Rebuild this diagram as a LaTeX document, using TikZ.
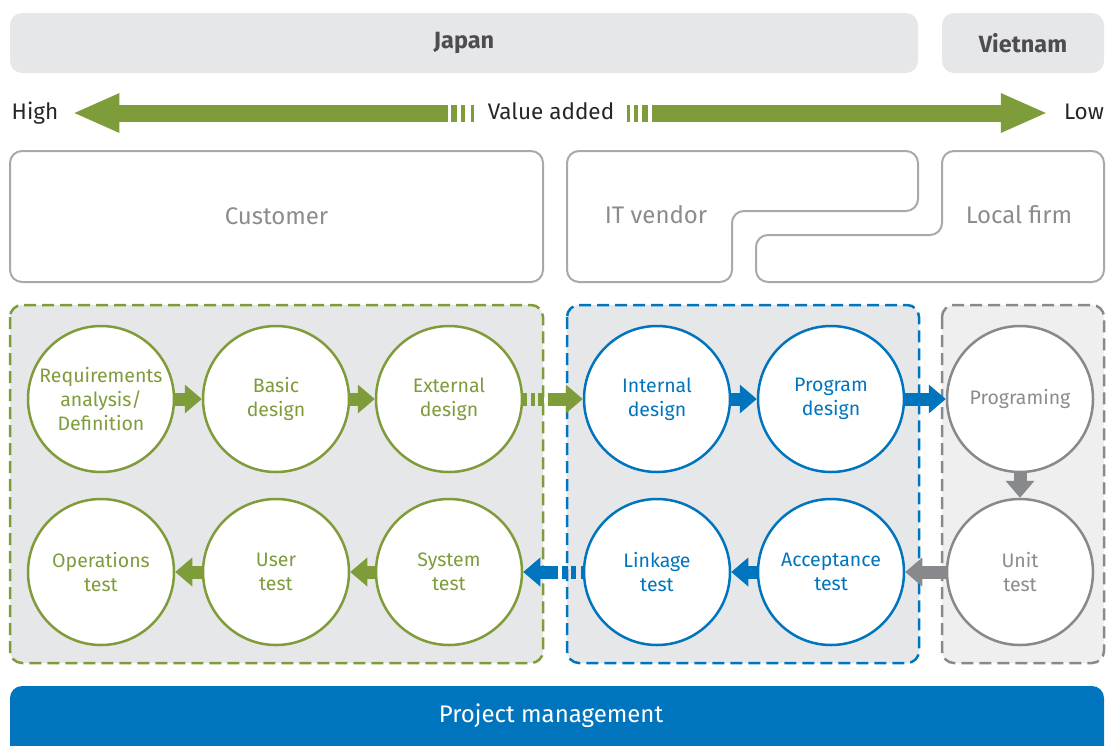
\documentclass[tikz,border=0pt]{standalone}
\usepackage{fontspec}
\setmainfont{Fira Sans}
\usetikzlibrary{arrows.meta,positioning}
\definecolor{valuecol}{RGB}{127,156,59}
\definecolor{vendorcol}{RGB}{0,117,190}
\definecolor{firmcol}{RGB}{135,137,140}
\definecolor{boxline}{RGB}{167,169,172}
\definecolor{boxtext}{RGB}{138,140,142}
\definecolor{panelfill}{RGB}{230,231,232}
\definecolor{firmfill}{RGB}{239,239,239}
\definecolor{headtext}{RGB}{77,77,79}
\tikzset{
  region/.style={fill=panelfill,rounded corners=12pt,minimum height=60pt,inner sep=0pt,
    font=\fontsize{23.5}{26}\selectfont\bfseries,text=headtext},
  party/.style={draw=boxline,line width=2pt,rounded corners=12pt},
  partytext/.style={font=\fontsize{24}{28}\selectfont,text=boxtext,inner sep=0pt},
  scalelbl/.style={font=\fontsize{22.5}{26}\selectfont,text=black!85,inner sep=0pt,
    text height=16pt,text depth=4pt},
  valarrow/.style={-{Triangle[length=45pt,width=40pt,line width=0pt]},line width=17pt,valuecol},
  panel/.style={line width=2.5pt,rounded corners=12pt,dash pattern=on 12pt off 6pt},
  phase/.style={circle,draw,fill=white,line width=2.5pt,minimum size=146pt,inner sep=0pt,
    align=center,font=\fontsize{19.5}{24}\selectfont},
  flow/.style={-{Triangle[length=17pt,width=29pt,line width=0pt]},line width=13pt}
}

\begin{document}
\begin{tikzpicture}[x=1pt,y=-1pt]
  \useasboundingbox (0,0) rectangle (1113,745);
  \clip (0,0) rectangle (1113,745);

  % countries
  \node[region,minimum width=908pt] (japan) at (464,43) {Japan};
  \node[region,minimum width=162pt] (vietnam) at (1023,43) {Vietnam};

  % value added scale
  \node[scalelbl] (high) at (35,113) {High};
  \node[scalelbl] (low) at (1084,113) {Low};
  \node[scalelbl] (value) at (551,113) {Value added};
  \draw[valarrow,shorten <=14pt,shorten >=16pt,
    dash pattern=on 3pt off 6pt on 4pt off 4pt on 6pt off 3pt on 600pt] (value.west) -- (high.east);
  \draw[valarrow,shorten <=13pt,shorten >=18pt,
    dash pattern=on 3pt off 4pt on 4pt off 4pt on 6pt off 4pt on 600pt] (value.east) -- (low.west);

  % who does the work
  \node[party,partytext,minimum width=533pt,minimum height=131pt] (customer) at (276.5,216.5) {Customer};
  \draw[party] (567,151) -- (918,151) -- (918,211) -- (732,211) -- (732,282) -- (567,282) -- cycle;
  \draw[party] (942,151) -- (1104,151) -- (1104,282) -- (756,282) -- (756,235) -- (942,235) -- cycle;
  \node[partytext] (itvendor) at (656,215) {IT vendor};
  \node[partytext] (localfirm) at (1019,215) {Local firm};

  % phase groups
  \draw[panel,draw=valuecol,fill=panelfill] (10,305) rectangle (543,663);
  \draw[panel,draw=vendorcol,fill=panelfill] (567,305) rectangle (919,663);
  \draw[panel,draw=firmcol,fill=firmfill] (942,305) rectangle (1104,663);

  \node[phase,draw=valuecol,text=valuecol] (req) at (101,399) {Requirements\\analysis/\\Definition};
  \node[phase,draw=valuecol,text=valuecol] (basic) at (276,399) {Basic\\design};
  \node[phase,draw=valuecol,text=valuecol] (external) at (449,399) {External\\design};
  \node[phase,draw=valuecol,text=valuecol] (operations) at (101,572) {Operations\\test};
  \node[phase,draw=valuecol,text=valuecol] (user) at (276,572) {User\\test};
  \node[phase,draw=valuecol,text=valuecol] (system) at (449,572) {System\\test};
  \node[phase,draw=vendorcol,text=vendorcol] (internal) at (657,399) {Internal\\design};
  \node[phase,draw=vendorcol,text=vendorcol] (program) at (831,399) {Program\\design};
  \node[phase,draw=vendorcol,text=vendorcol] (linkage) at (657,572) {Linkage\\test};
  \node[phase,draw=vendorcol,text=vendorcol] (acceptance) at (831,572) {Acceptance\\test};
  \node[phase,draw=firmcol,text=boxtext] (programing) at (1020,399) {Programing};
  \node[phase,draw=firmcol,text=boxtext] (unit) at (1020,572) {Unit\\test};

  % flow between phases
  \draw[flow,valuecol] (req) -- (basic);
  \draw[flow,valuecol] (basic) -- (external);
  \draw[flow,valuecol,dash pattern=on 4pt off 4pt on 4pt off 3pt on 6pt off 4pt on 100pt] (external) -- (internal);
  \draw[flow,vendorcol] (internal) -- (program);
  \draw[flow,vendorcol] (program) -- (programing);
  \draw[flow,firmcol] (programing) -- (unit);
  \draw[flow,firmcol] (unit) -- (acceptance);
  \draw[flow,vendorcol] (acceptance) -- (linkage);
  \draw[flow,vendorcol,dash pattern=on 2pt off 5pt on 5pt off 3pt on 6pt off 4pt on 100pt] (linkage) -- (system);
  \draw[flow,valuecol] (system) -- (user);
  \draw[flow,valuecol] (user) -- (operations);

  % project management bar
  \fill[vendorcol,rounded corners=12pt] (10,686) rectangle (1104,765);
  \node[font=\fontsize{24}{28}\selectfont,text=white] (pm) at (551,716) {Project management};
\end{tikzpicture}
\end{document}
